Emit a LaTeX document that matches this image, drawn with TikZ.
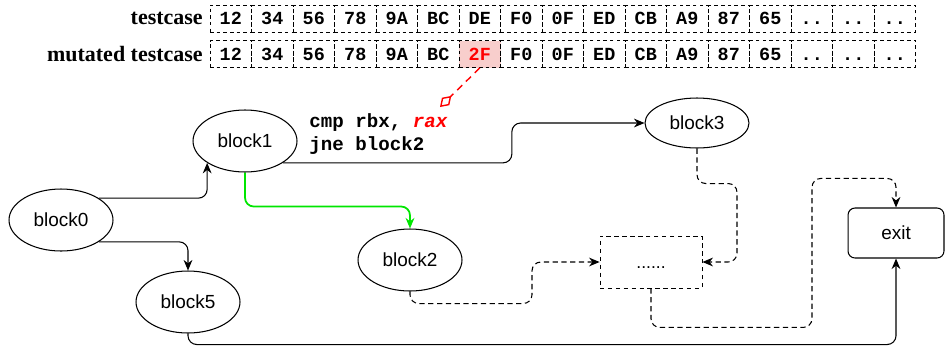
\documentclass[tikz,border=0pt]{standalone}
\usepackage{fontspec}
\setmainfont{Liberation Sans}
\newfontfamily\codefont{Liberation Mono}
\newfontfamily\labelfont{Liberation Serif}
\usetikzlibrary{shapes.geometric,arrows.meta}

\definecolor{flipfill}{RGB}{248,206,204}
\definecolor{flipred}{RGB}{255,0,0}
\definecolor{takengreen}{RGB}{0,230,0}

\tikzset{
  block/.style={draw, ellipse, inner sep=0pt, line width=0.6pt, minimum width=2.08cm, minimum height=1.24cm, font=\fontsize{10.8}{12}\selectfont},
  byte/.style={draw, dash pattern=on 2pt off 1.8pt, line width=0.5pt, minimum width=0.83cm, minimum height=0.54cm, inner sep=0pt, text height=7pt, text depth=0pt, font=\codefont\bfseries\fontsize{10.5}{12}\selectfont},
  rowlabel/.style={anchor=east, inner sep=0pt, font=\labelfont\bfseries\fontsize{12.5}{14}\selectfont},
  flow/.style={draw, line width=0.6pt, rounded corners=5pt, -{Stealth[length=6pt,width=5pt]}},
  dflow/.style={flow, dash pattern=on 3pt off 2pt},
}

\begin{document}
\begin{tikzpicture}[x=0.02cm, y=-0.02cm]
\useasboundingbox (0,0) rectangle (945,349);

% input bytes
\node[rowlabel] (tlabel) at (203,18.5) {testcase};
\node[rowlabel] (mlabel) at (203,54) {mutated testcase};
\foreach \b [count=\i] in {12,34,56,78,9A,BC,DE,F0,0F,ED,CB,A9,87,65,..,..,..} {
    \node[byte] (t\i) at (210+41.5*\i-20.75, 18.5) {\b};
}
\foreach \b [count=\i] in {12,34,56,78,9A,BC,2F,F0,0F,ED,CB,A9,87,65,..,..,..} {
    \ifnum\i=7
        \node[byte, fill=flipfill, text=flipred] (m\i) at (210+41.5*\i-20.75, 54) {\b};
    \else
        \node[byte] (m\i) at (210+41.5*\i-20.75, 54) {\b};
    \fi
}

% basic blocks
\node[block] (block0) at (61,220) {block0};
\node[block] (block1) at (245,141) {block1};
\node[block] (block2) at (410,260) {block2};
\node[block, minimum height=1.0cm] (block3) at (697,123) {block3};
\node[block] (block5) at (188,302) {block5};
\node[draw, dash pattern=on 2.5pt off 2pt, line width=0.5pt, minimum width=2.04cm, minimum height=1.04cm, text height=7pt, text depth=0pt] (more) at (651,262) {......};
\node[draw, rounded corners=4pt, line width=0.6pt, minimum width=1.92cm, minimum height=1.0cm, font=\fontsize{10.8}{12}\selectfont] (exit) at (896,233) {exit};

% branch instruction
\node[anchor=west, align=left, inner sep=0pt, font=\codefont\bfseries\fontsize{10.9}{13}\selectfont] (code) at (309,134)
    {cmp rbx, \textcolor{flipred}{\textit{rax}}\\jne block2};
\coordinate (raxtip) at (440,107);
\draw[flipred, line width=0.8pt, dash pattern=on 4pt off 3pt, -{Diamond[open,length=9pt,width=6pt]}] (m7.south) -- (raxtip);

% edges
\draw[flow] (block0.30) -| (block1.210);
\draw[flow] (block0.-30) -| (block5.north);
\draw[flow] (block1.-30) -- ++(229,0) |- (block3.west);
\draw[flow, takengreen, line width=1pt] (block1.south) -- ++(0,34) -| (block2.north);
\draw[dflow] (block3.south) |- ++(40,35) |- (more.east);
\draw[dflow] (block2.south) |- ++(122,12) |- (more.west);
\draw[dflow] (more.south) |- ++(161,39) |- ++(84,-149) -- (exit.north);
\draw[flow] (block5.south) -- ++(0,11) -| (exit.south);
\end{tikzpicture}
\end{document}
